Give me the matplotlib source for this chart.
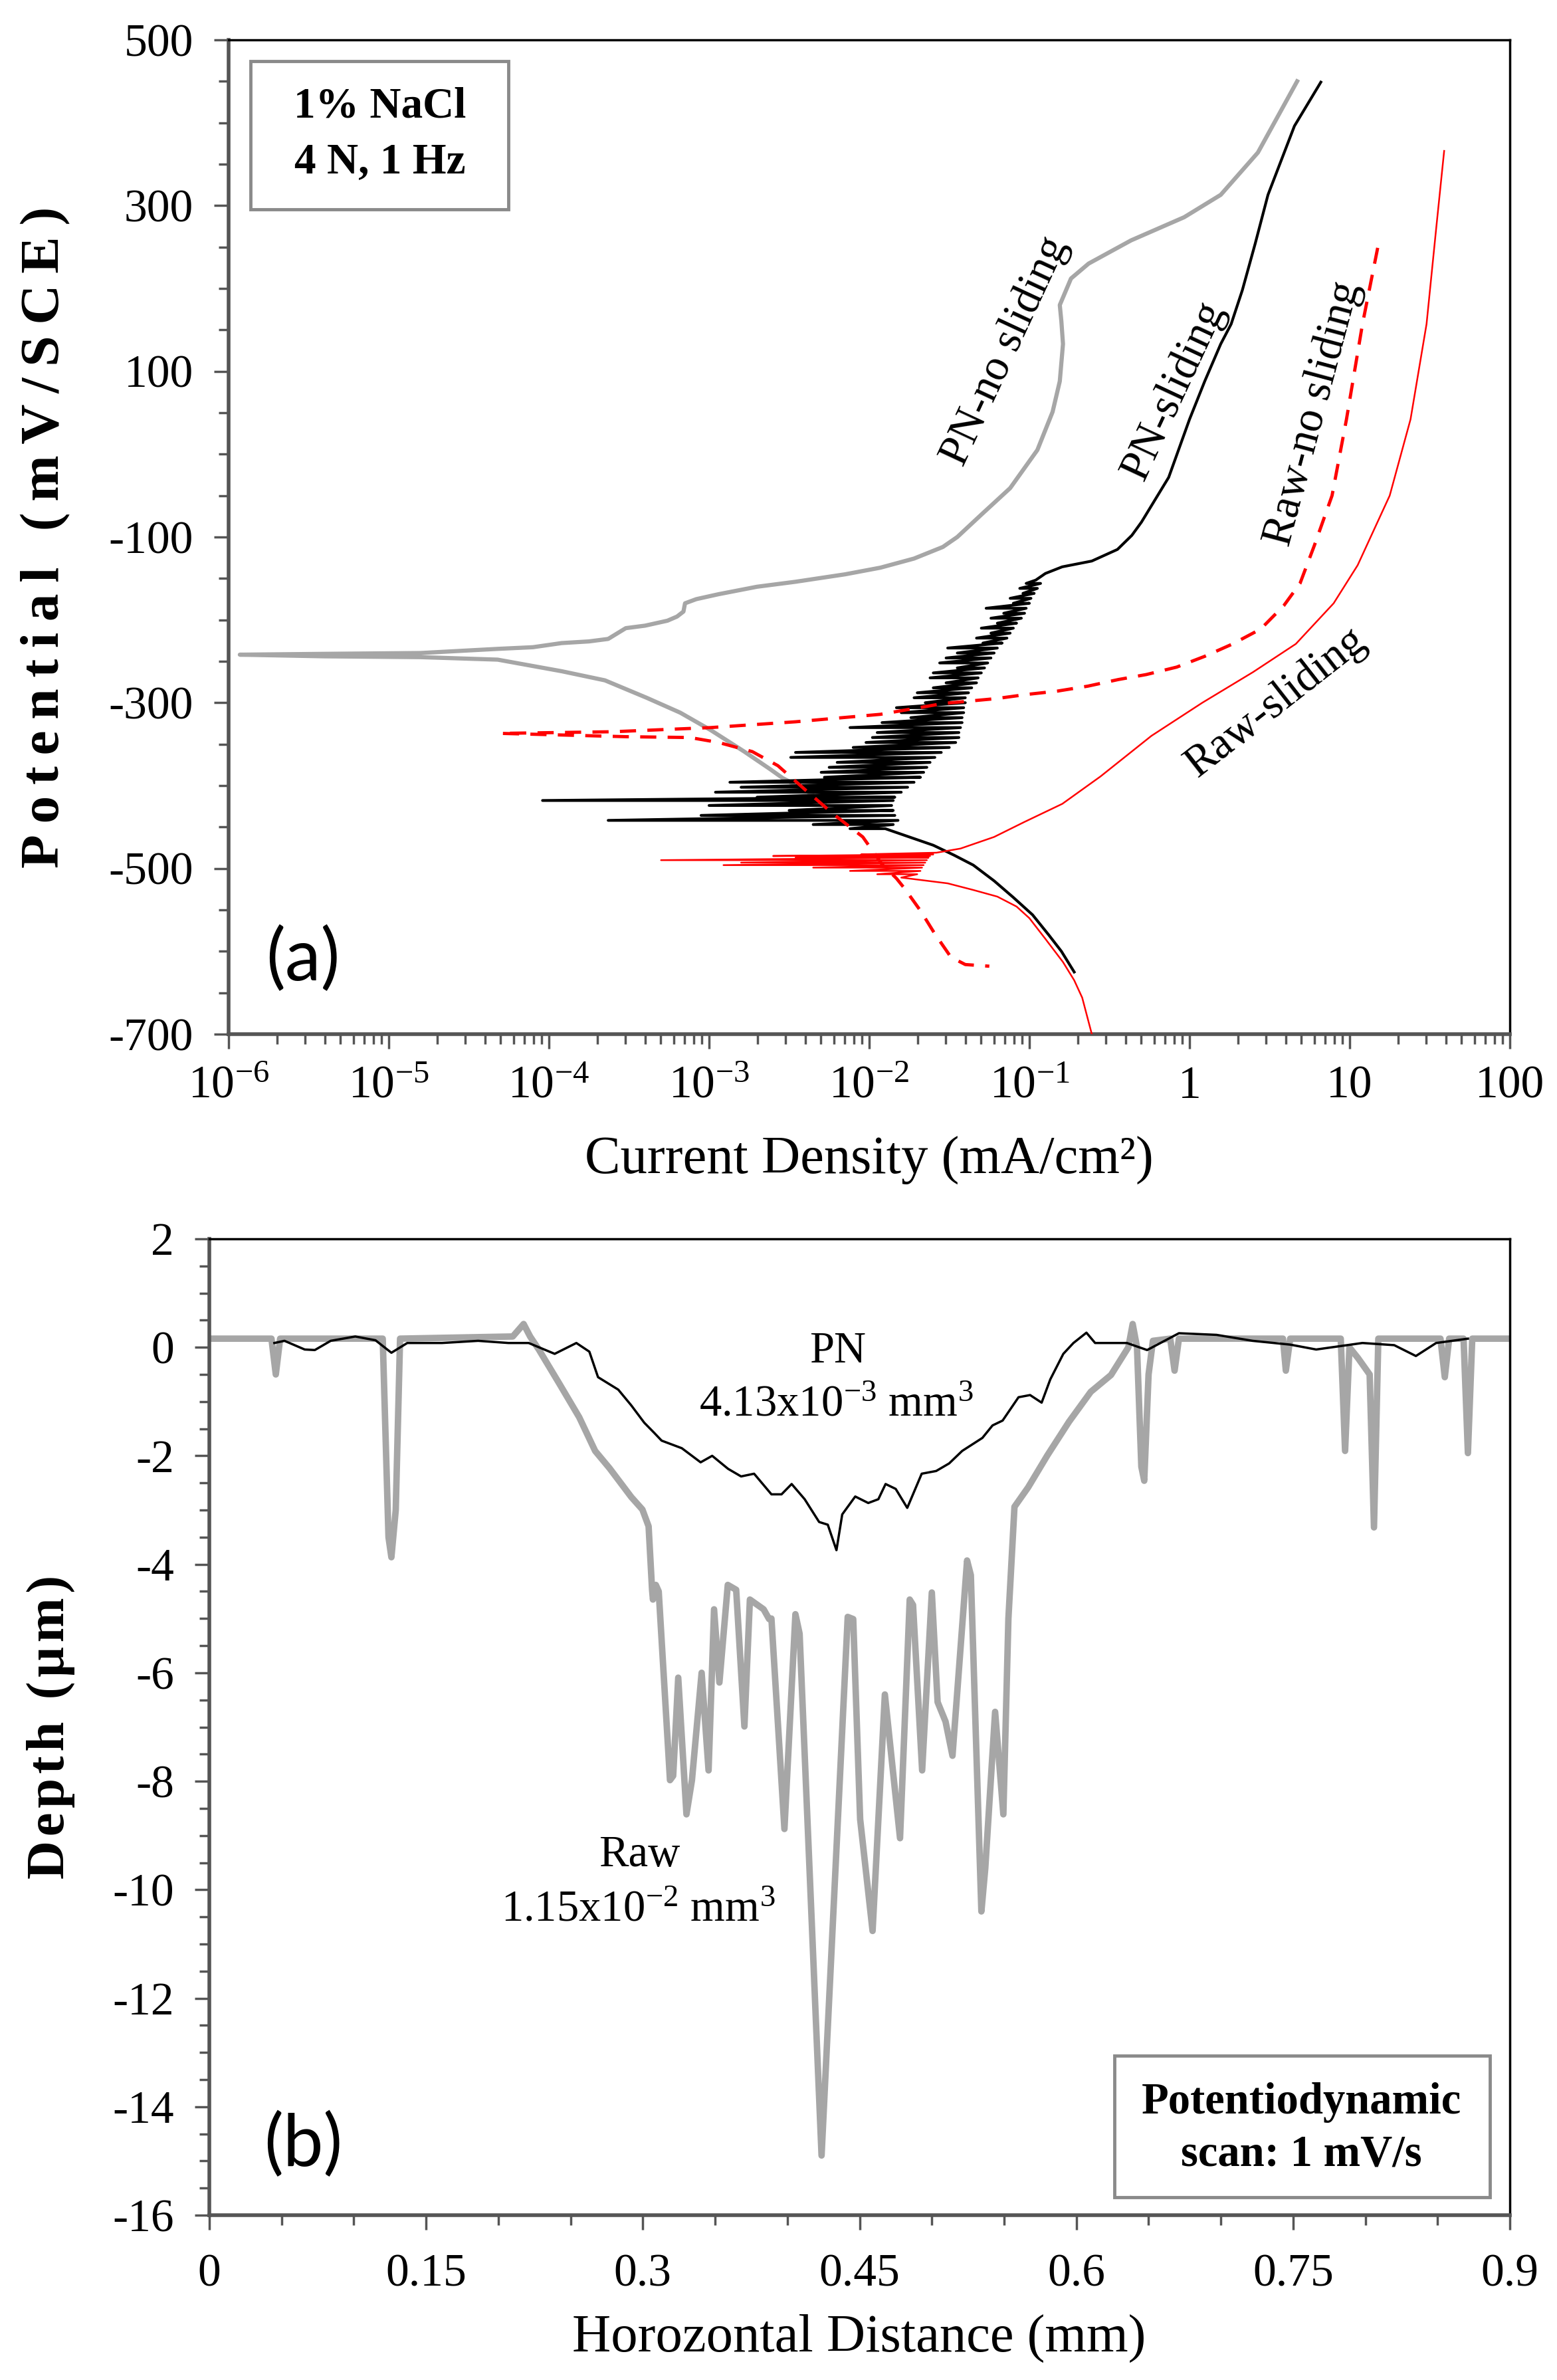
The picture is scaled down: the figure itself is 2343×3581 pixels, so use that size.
import numpy as np
import matplotlib
matplotlib.use('Agg')
import matplotlib.pyplot as plt
from matplotlib.patches import Rectangle
from matplotlib.ticker import LogLocator, NullFormatter, MultipleLocator

plt.rcParams['font.family'] = ['Liberation Serif', 'DejaVu Serif']
plt.rcParams['mathtext.fontset'] = 'custom'
plt.rcParams['mathtext.rm'] = 'Liberation Serif'
plt.rcParams['mathtext.it'] = 'Liberation Serif:italic'
plt.rcParams['mathtext.bf'] = 'Liberation Serif:bold'
plt.rcParams['axes.unicode_minus'] = False

# ---------------- Panel (a) data: log10(current density, mA/cm2) vs potential (mV/SCE)
pn_nosl_logi = [-2.28, -2.40, -2.54, -2.62, -2.78, -2.99, -3.18, -3.39, -3.65, -3.92,
                -4.32, -4.80, -5.40, -5.93, -5.40, -4.80, -4.32, -4.10, -3.92, -3.75,
                -3.63, -3.52, -3.40, -3.26, -3.20, -3.16, -3.15, -3.08, -2.94, -2.70,
                -2.46, -2.15, -1.93, -1.72, -1.54, -1.45, -1.30, -1.12, -0.95, -0.855,
                -0.81, -0.79, -0.80, -0.81, -0.74, -0.63, -0.365, -0.033, 0.195, 0.427,
                0.672]
pn_nosl_E = [-422, -405, -391, -380, -359, -333, -312, -294, -273, -262,
             -248, -245, -244, -242, -241, -240, -235, -233, -228, -226,
             -223, -210, -207, -201, -196, -190, -180, -175, -169, -160,
             -154, -145, -137, -126, -112, -100, -73, -41, 5, 51,
             88, 133, 160, 180, 212, 230, 258, 286, 313, 364,
             450]

pn_sl_top_logi = [0.82, 0.655, 0.49, 0.41, 0.33, 0.26, 0.195, 0.095, 0.0, -0.13,
                  -0.30, -0.36, -0.45, -0.61, -0.795, -0.90, -0.96]
pn_sl_top_E = [449, 396, 313, 254, 198, 157, 133, 88, 42, -28,
               -82, -98, -115, -129, -136, -144, -152]
pn_sl_noise_E = [-156, -162, -168, -174, -180, -186, -192, -198, -204, -210,
                 -216, -222, -228, -234, -240, -246, -252, -258, -264, -270,
                 -276, -282, -288, -294, -300, -306, -312, -318, -324, -330,
                 -336, -342, -348, -354, -360, -366, -372, -378, -384, -390,
                 -396, -402, -408, -414, -418, -424, -430, -436, -442, -447,
                 -452]
pn_sl_noise_lo = [-1.02, -1.06, -1.04, -1.12, -1.10, -1.27, -1.16, -1.24, -1.20, -1.30,
                  -1.24, -1.33, -1.29, -1.51, -1.45, -1.52, -1.56, -1.45, -1.60, -1.62,
                  -1.52, -1.60, -1.70, -1.72, -1.65, -1.83, -1.80, -1.74, -1.92, -2.12,
                  -1.95, -1.98, -2.02, -2.10, -2.46, -2.49, -2.20, -2.25, -2.30, -2.28,
                  -2.87, -2.80, -2.96, -2.70, -4.04, -3.00, -2.50, -3.05, -3.63, -2.35,
                  -2.12]
pn_sl_noise_hi = [-0.93, -0.95, -0.97, -0.99, -1.00, -1.02, -1.03, -1.05, -1.08, -1.10,
                  -1.12, -1.14, -1.17, -1.20, -1.22, -1.24, -1.26, -1.28, -1.30, -1.32,
                  -1.33, -1.36, -1.38, -1.40, -1.40, -1.41, -1.41, -1.42, -1.42, -1.43,
                  -1.44, -1.44, -1.46, -1.50, -1.55, -1.59, -1.62, -1.64, -1.66, -1.68,
                  -1.72, -1.76, -1.80, -1.84, -1.85, -1.86, -1.85, -1.84, -1.82, -1.85,
                  -1.90]
pn_sl_bot_logi = [-1.75, -1.60, -1.47, -1.35, -1.22, -1.10, -0.98, -0.88, -0.80, -0.72]
pn_sl_bot_E = [-462, -472, -484, -496, -515, -535, -556, -580, -600, -625]

raw_nosl_logi = [1.175, 1.08, 0.98, 0.89, 0.78, 0.69, 0.588, 0.445, 0.27, 0.095,
                 -0.08, -0.27, -0.444, -0.635, -0.826, -1.016, -1.206, -1.54, -1.93, -2.46,
                 -2.99, -3.60, -4.30, -3.52, -3.12, -2.94, -2.73, -2.57, -2.40, -2.22,
                 -2.04, -1.92, -1.83, -1.78, -1.68, -1.59, -1.49, -1.40, -1.25]
raw_nosl_E = [249, 157, 42, -50, -110, -156, -183, -211, -229, -244,
              -257, -266, -272, -280, -286, -290, -295, -301, -314, -323,
              -330, -335, -337, -341, -342, -348, -359, -376, -405, -435,
              -462, -495, -512, -524, -551, -579, -607, -616, -618]

raw_sl_top_logi = [1.59, 1.54, 1.48, 1.38, 1.25, 1.05, 0.90, 0.664, 0.397, 0.080,
                   -0.238, -0.556, -0.794, -1.032, -1.22, -1.43, -1.58]
raw_sl_top_E = [366, 272, 157, 42, -50, -134, -180, -229, -263, -300,
                -340, -389, -422, -444, -462, -476, -481]
raw_sl_noise_E = [-483, -485, -487, -490, -493, -496, -499, -503, -507]
raw_sl_noise_lo = [-2.05, -2.60, -2.46, -3.30, -2.80, -2.91, -2.35, -2.12, -1.95]
raw_sl_noise_hi = [-1.60, -1.62, -1.63, -1.64, -1.65, -1.66, -1.67, -1.68, -1.70]
raw_sl_bot_logi = [-1.80, -1.51, -1.35, -1.20, -1.08, -1.00, -0.90, -0.79, -0.72, -0.67, -0.61]
raw_sl_bot_E = [-511, -518, -526, -534, -546, -560, -585, -613, -635, -656, -700]

x_tick_vals = [1e-6, 1e-5, 1e-4, 1e-3, 1e-2, 1e-1, 1, 10, 100]
x_tick_labels = [r'$\mathregular{10^{-6}}$', r'$\mathregular{10^{-5}}$', r'$\mathregular{10^{-4}}$',
                 r'$\mathregular{10^{-3}}$', r'$\mathregular{10^{-2}}$', r'$\mathregular{10^{-1}}$',
                 '1', '10', '100']
y_tick_vals_a = [500, 300, 100, -100, -300, -500, -700]

# ---------------- Panel (b) data: depth profiles
raw_x = [0.0, 0.043, 0.046, 0.049, 0.120, 0.124, 0.126, 0.129, 0.132,
         0.21, 0.2175, 0.222, 0.228, 0.242, 0.256, 0.267, 0.277, 0.292, 0.2997,
         0.304, 0.3064, 0.307, 0.309, 0.311, 0.3188, 0.321, 0.3245, 0.3302, 0.334,
         0.3407, 0.3455, 0.3493, 0.353, 0.3588, 0.3646, 0.3703, 0.3741, 0.3836, 0.3874,
         0.389, 0.398, 0.4056, 0.4085, 0.4237, 0.4418, 0.4456, 0.4504, 0.459, 0.4675,
         0.478, 0.4847, 0.487, 0.4933, 0.500, 0.504, 0.5095, 0.5143, 0.5244, 0.527,
         0.5343, 0.537, 0.5438, 0.5495, 0.553, 0.5572, 0.5667, 0.580, 0.595, 0.610,
         0.624, 0.636, 0.639, 0.642, 0.645, 0.647, 0.650, 0.653, 0.665, 0.668,
         0.671, 0.743, 0.745, 0.748, 0.783, 0.786, 0.789, 0.795, 0.803, 0.806,
         0.809, 0.852, 0.855, 0.858, 0.868, 0.871, 0.874, 0.9]
raw_depth = [0.16, 0.16, -0.5, 0.16, 0.16, -3.5, -3.87, -3.0, 0.16,
             0.2, 0.43, 0.2, -0.04, -0.66, -1.29, -1.91, -2.23, -2.76, -2.99,
             -3.30, -4.47, -4.65, -4.38, -4.5, -7.98, -7.9, -6.09, -8.61, -7.98,
             -6.0, -7.80, -4.83, -6.18, -4.38, -4.47, -6.99, -4.65, -4.83, -5.01,
             -5.0, -8.88, -4.92, -5.28, -14.9, -4.97, -5.01, -8.7, -10.76, -6.40,
             -9.05, -4.65, -4.75, -7.80, -4.52, -6.54, -6.90, -7.53, -3.93, -4.2,
             -10.40, -9.6, -6.72, -8.61, -5.0, -2.94, -2.58, -1.99, -1.37, -0.82,
             -0.51, 0.0, 0.43, 0.0, -2.2, -2.46, -0.5, 0.12, 0.16, -0.43,
             0.16, 0.16, -0.43, 0.16, 0.16, -1.91, 0.0, -0.2, -0.5, -3.32,
             0.16, 0.16, -0.55, 0.16, 0.16, -1.95, 0.16, 0.16]
pn_x = [0.045, 0.052, 0.066, 0.073, 0.084, 0.101, 0.115, 0.126, 0.137, 0.161,
        0.186, 0.207, 0.221, 0.239, 0.254, 0.263, 0.269, 0.283, 0.292, 0.301,
        0.308, 0.313, 0.327, 0.334, 0.340, 0.348, 0.359, 0.368, 0.377, 0.389,
        0.396, 0.403, 0.412, 0.422, 0.428, 0.434, 0.438, 0.447, 0.456, 0.463,
        0.468, 0.475, 0.483, 0.493, 0.503, 0.512, 0.521, 0.535, 0.542, 0.549,
        0.560, 0.568, 0.576, 0.582, 0.591, 0.598, 0.607, 0.613, 0.635, 0.649,
        0.671, 0.697, 0.722, 0.748, 0.766, 0.798, 0.820, 0.835, 0.849, 0.871]
pn_depth = [0.08, 0.12, -0.04, -0.05, 0.12, 0.20, 0.13, -0.10, 0.08, 0.08,
            0.12, 0.08, 0.08, -0.12, 0.08, -0.08, -0.55, -0.78, -1.07, -1.39,
            -1.58, -1.72, -1.86, -2.00, -2.12, -2.00, -2.24, -2.38, -2.33, -2.71,
            -2.71, -2.52, -2.80, -3.22, -3.27, -3.74, -3.08, -2.75, -2.87, -2.80,
            -2.52, -2.61, -2.96, -2.33, -2.28, -2.14, -1.91, -1.67, -1.44, -1.35,
            -0.92, -0.88, -1.02, -0.59, -0.12, 0.08, 0.27, 0.08, 0.08, -0.05,
            0.26, 0.23, 0.12, 0.05, -0.04, 0.08, 0.04, -0.16, 0.08, 0.16]
xb_tick_vals = [0, 0.15, 0.3, 0.45, 0.6, 0.75, 0.9]
xb_tick_labels = ['0', '0.15', '0.3', '0.45', '0.6', '0.75', '0.9']
yb_tick_vals = [2, 0, -2, -4, -6, -8, -10, -12, -14, -16]

# ---------------- helpers
def zigzag(E, lo, hi):
    xs, ys = [], []
    for e, a, b in zip(E, lo, hi):
        xs += [a, b]
        ys += [e, e]
    return xs, ys

def spaced(s, sep):
    return sep.join(list(s))

W, H = 2343, 3581
fig = plt.figure(figsize=(W / 100, H / 100), dpi=100)

def fig_rect(x0, y0, x1, y1):
    return [x0 / W, 1 - y1 / H, (x1 - x0) / W, (y1 - y0) / H]

axA = fig.add_axes(fig_rect(344, 60, 2272, 1556))
axB = fig.add_axes(fig_rect(315, 1864, 2272, 3333))

GRAY = '#a6a6a6'
RED = '#ff0000'

# ---------------- Panel (a)
axA.plot(10.0 ** np.array(pn_nosl_logi), pn_nosl_E, color=GRAY, lw=4.5,
         solid_joinstyle='round', zorder=2)

nz_x, nz_y = zigzag(pn_sl_noise_E, pn_sl_noise_lo, pn_sl_noise_hi)
pn_sl_logi = pn_sl_top_logi + nz_x + pn_sl_bot_logi
pn_sl_E = pn_sl_top_E + nz_y + pn_sl_bot_E
axA.plot(10.0 ** np.array(pn_sl_logi), pn_sl_E, color='black', lw=3.0, zorder=3)

axA.plot(10.0 ** np.array(raw_nosl_logi), raw_nosl_E, color=RED, lw=3.5,
         linestyle=(0, (5, 3.5)), zorder=4)

rz_x, rz_y = zigzag(raw_sl_noise_E, raw_sl_noise_lo, raw_sl_noise_hi)
raw_sl_logi = raw_sl_top_logi + rz_x + raw_sl_bot_logi
raw_sl_E = raw_sl_top_E + rz_y + raw_sl_bot_E
axA.plot(10.0 ** np.array(raw_sl_logi), raw_sl_E, color=RED, lw=1.8, zorder=5)

axA.set_xscale('log')
axA.set_xlim(1e-6, 100)
axA.set_ylim(-700, 500)
axA.set_xticks(x_tick_vals)
axA.set_xticklabels(x_tick_labels)
axA.xaxis.set_minor_locator(LogLocator(base=10, subs=np.arange(2, 10), numticks=100))
axA.xaxis.set_minor_formatter(NullFormatter())
axA.set_yticks(y_tick_vals_a)
axA.set_yticklabels([str(v) for v in y_tick_vals_a])
axA.yaxis.set_minor_locator(MultipleLocator(50))

# ---------------- Panel (b)
axB.plot(raw_x, raw_depth, color=GRAY, lw=7, solid_joinstyle='round', zorder=2)
axB.plot(pn_x, pn_depth, color='black', lw=2.5, zorder=3)
axB.set_xlim(0, 0.9)
axB.set_ylim(-16, 2)
axB.set_xticks(xb_tick_vals)
axB.set_xticklabels(xb_tick_labels)
axB.xaxis.set_minor_locator(MultipleLocator(0.05))
axB.set_yticks(yb_tick_vals)
axB.set_yticklabels([str(v) for v in yb_tick_vals])
axB.yaxis.set_minor_locator(MultipleLocator(0.5))

for ax in (axA, axB):
    for s in ('left', 'bottom'):
        ax.spines[s].set_color('#555555')
        ax.spines[s].set_linewidth(4)
    for s in ('top', 'right'):
        ax.spines[s].set_color('black')
        ax.spines[s].set_linewidth(2.5)
    ax.tick_params(which='both', direction='out', color='#555555', width=2.5,
                   labelsize=50, top=False, right=False)
    ax.tick_params(which='major', length=16)
    ax.tick_params(which='minor', length=11)
axA.tick_params(axis='y', which='major', pad=22)
axA.tick_params(axis='x', which='major', pad=18)
axB.tick_params(axis='y', which='major', pad=22)
axB.tick_params(axis='x', which='major', pad=26)

# axis labels (the original uses letter-spaced titles on the y axes)
fig.text(69 / W, 1 - 808 / H, spaced('Potential (mV/SCE)', '\u2009'), rotation=90,
         ha='center', va='center', fontsize=60, fontweight='bold')
fig.text(1308 / W, 1 - 1746 / H, 'Current Density (mA/cm²)', ha='center', va='center',
         fontsize=58)
fig.text(76 / W, 1 - 2598 / H, spaced('Depth (μm)', '\u200a'), rotation=90,
         ha='center', va='center', fontsize=58, fontweight='bold')
fig.text(1293 / W, 1 - 3518 / H, 'Horozontal Distance (mm)', ha='center', va='center',
         fontsize=58)

# panel (a) annotations
axA.add_patch(Rectangle((0.0171, 0.8295), 0.2013, 0.1491, transform=axA.transAxes,
                        facecolor='white', edgecolor='#8a8a8a', lw=3.5, zorder=6))
axA.text(0.1183, 0.9325, '1% NaCl', transform=axA.transAxes, ha='center', va='center',
         fontsize=47, fontweight='bold', zorder=7)
axA.text(0.1183, 0.877, '4 N, 1 Hz', transform=axA.transAxes, ha='center', va='center',
         fontsize=47, fontweight='bold', zorder=7)
axA.text(0.058, 0.075, '(a)', transform=axA.transAxes, ha='center', va='center',
         fontsize=78, family=['Lato', 'DejaVu Sans'])
lab_kw = dict(transform=axA.transAxes, ha='center', va='center', fontsize=48,
              rotation_mode='anchor')
axA.text(0.606, 0.687, 'PN-no sliding', rotation=65, **lab_kw)
axA.text(0.7376, 0.647, 'PN-sliding', rotation=65, **lab_kw)
axA.text(0.8465, 0.624, 'Raw-no sliding', rotation=75, **lab_kw)
axA.text(0.8174, 0.333, 'Raw-sliding', rotation=38, **lab_kw)

# panel (b) annotations
axB.text(0.4347, -0.08, 'PN', ha='center', va='center', fontsize=48)
axB.text(0.4338, -1.06, r'4.13x10$^{\mathregular{-3}}$ mm$^{\mathregular{3}}$',
         ha='center', va='center', fontsize=48)
axB.text(0.2976, -9.36, 'Raw', ha='center', va='center', fontsize=48)
axB.text(0.2967, -10.37, r'1.15x10$^{\mathregular{-2}}$ mm$^{\mathregular{3}}$',
         ha='center', va='center', fontsize=48)
axB.add_patch(Rectangle((0.696, 0.0184), 0.2887, 0.145, transform=axB.transAxes,
                        facecolor='white', edgecolor='#8a8a8a', lw=3.5, zorder=6))
axB.text(0.8396, 0.1157, 'Potentiodynamic', transform=axB.transAxes, ha='center',
         va='center', fontsize=48, fontweight='bold', zorder=7)
axB.text(0.8396, 0.0619, 'scan: 1 mV/s', transform=axB.transAxes, ha='center',
         va='center', fontsize=48, fontweight='bold', zorder=7)
axB.text(0.072, 0.0715, '(b)', transform=axB.transAxes, ha='center', va='center',
         fontsize=78, family=['Lato', 'DejaVu Sans'])

fig.savefig('out.png', dpi=100)
